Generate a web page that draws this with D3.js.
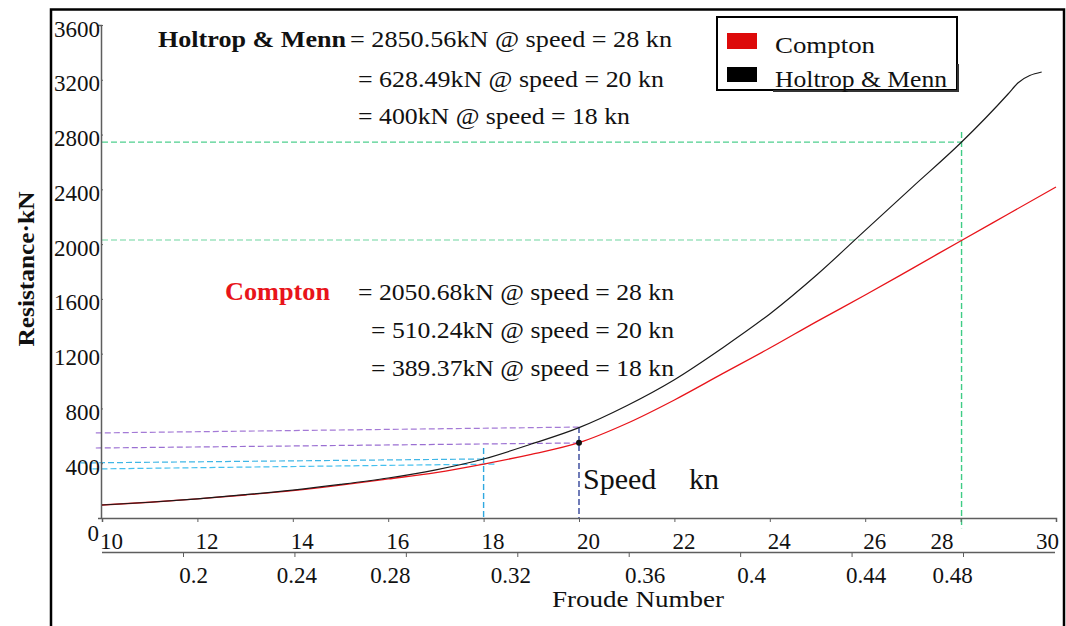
<!DOCTYPE html>
<html><head><meta charset="utf-8">
<script src="https://cdn.jsdelivr.net/npm/d3@7"></script>
<style>
body{margin:0;background:#fff}
svg{display:block}
text{font-family:"Liberation Serif","Times New Roman",serif;fill:#111}
</style>
</head><body>
<svg id="c" width="1066" height="626"></svg>
<script>
// ---------- data ----------
const holtropSpeed = [10,11,12,13,14,15,16,17,18,19,20,21,22,23,24,25,26,27,28,29,29.2,29.7];
const holtropRes   = [95,115,140,170,204,245,292,352,431,540,660,820,1010,1240,1490,1780,2100,2420,2738,3098,3176,3257];
const comptonSpeed = [10,11,12,13,14,15,16,17,18,19,20,21,22,23,24,25,26,27,28,29,30];
const comptonRes   = [95,115,139,168,200,240,285,332,394,465,550,690,862,1052,1241,1438,1628,1825,2023,2220,2417];
const speedTicks  = [10,12,14,16,18,20,22,24,26,28,30];
const froudeTicks = [0.2,0.24,0.28,0.32,0.36,0.4,0.44,0.48];
const resTicks    = [0,400,800,1200,1600,2000,2400,2800,3200,3600];
const seriesNames = ["Compton","Holtrop & Menn"];
// guide lines: [speed, resistance] end points
const guideH28Holtrop = [[10,2745],[28.02,2745]];
const guideH28Compton = [[10,2030],[28.02,2030]];
const guideV28        = [[28.02,2818],[28.02,-75]];
const guideH20Holtrop = [[9.87,621],[20,664]];
const guideH20Compton = [[9.87,511],[20,548]];
const guideH18Holtrop = [[9.56,402],[18,431]];
const guideH18Compton = [[9.8,358],[18.25,394]];
const guideV18        = [[18,511],[18,0]];
const guideV20        = [[20,664],[20,0]];
const markerPoint     = [20,550];
const holtropNotes = ["= 2850.56kN @ speed = 28 kn","= 628.49kN @ speed = 20 kn","= 400kN @ speed = 18 kn"];
const comptonNotes = ["= 2050.68kN @ speed = 28 kn","= 510.24kN @ speed = 20 kn","= 389.37kN @ speed = 18 kn"];

// ---------- drawing ----------
const svg = d3.select("#c");
const x = d3.scaleLinear().domain([10,30]).range([102,1056]);
const y = d3.scaleLinear().domain([0,3600]).range([518,25]);
const fr = d3.scaleLinear().domain([0.2,0.48]).range([183,963]);
const serif = "Liberation Serif";

// outer frame
svg.append("path").attr("d","M51,626 V9.5 H1064 V626").attr("fill","none").attr("stroke","#000").attr("stroke-width",2.5);

// guides
const gl = d3.line().x(d=>x(d[0])).y(d=>y(d[1]));
function guide(pts,color,w){
  svg.append("path").attr("d",gl(pts)).attr("fill","none").attr("stroke",color)
    .attr("stroke-width",w||1.2).attr("stroke-dasharray","6,3");
}
guide(guideH28Holtrop,"#4fd08f");
guide(guideH28Compton,"#6fd6a0");
guide(guideV28,"#3fcc85",1.4);
guide(guideH20Holtrop,"#a47ad6");
guide(guideH20Compton,"#9a6fd2");
guide(guideH18Holtrop,"#3fb6e6");
guide(guideH18Compton,"#45c0ee");
guide(guideV18,"#2fa8e0",1.4);
guide(guideV20,"#33449a",1.4);

// axes
const axisColor = "#5e5e5e";
const yAx = svg.append("g").attr("transform","translate(101,0)")
  .call(d3.axisLeft(y).tickValues(resTicks).tickSize(3).tickPadding(1).tickFormat(d3.format("d")));
yAx.selectAll("text").attr("dy",null).attr("y",d=>d===0?22:11).attr("x",d=>d===0?-2:-1);
yAx.selectAll("line").attr("x2",2);

const xAx = svg.append("g").attr("transform","translate(0,518)")
  .call(d3.axisBottom(x).tickValues(speedTicks).tickSize(4).tickFormat(d3.format("d")));
const sOff = {28:-19,30:-9};
xAx.selectAll("text").attr("dy",null).attr("y",31)
  .attr("x",d=>sOff[d]!==undefined?sOff[d]:9);

const fAx = svg.append("g").attr("transform","translate(0,552)")
  .call(d3.axisBottom(fr).tickValues(froudeTicks).tickSize(5).tickSizeOuter(0).tickFormat(d=>String(d)));
const fOff = {0.2:10,0.24:2,0.28:-16,0.32:-7,0.36:16,0.4:11,0.44:14,0.48:-11};
fAx.selectAll("text").attr("dy",null).attr("y",31).attr("x",d=>fOff[d]||0);
fAx.select(".domain").attr("d","M102,0.5H1055");

[yAx,xAx,fAx].forEach(g=>{
  g.attr("font-family",serif).attr("font-size",23);
  g.selectAll("text").attr("font-family",serif).attr("font-size",23).attr("fill","#111");
  g.selectAll(".domain").attr("stroke",axisColor).attr("stroke-width",1.5);
  g.selectAll(".tick line").attr("stroke",axisColor);
});

// axis titles
svg.append("text").attr("x",638).attr("y",607).attr("text-anchor","middle").attr("font-size",23)
  .attr("textLength",172).attr("lengthAdjust","spacingAndGlyphs").text("Froude Number");
svg.append("text").attr("transform","translate(34,269) rotate(-90)").attr("text-anchor","middle")
  .attr("font-size",24).attr("font-weight","bold").attr("textLength",155).attr("lengthAdjust","spacingAndGlyphs").text("Resistance·kN");

// curves
const line = d3.line().x(d=>x(d[0])).y(d=>y(d[1])).curve(d3.curveMonotoneX);
svg.append("path").datum(comptonSpeed.map((s,i)=>[s,comptonRes[i]]))
  .attr("d",line).attr("fill","none").attr("stroke","#e8141a").attr("stroke-width",1.3);
svg.append("path").datum(holtropSpeed.map((s,i)=>[s,holtropRes[i]]))
  .attr("d",line).attr("fill","none").attr("stroke","#1a1a1a").attr("stroke-width",1.2);

svg.append("circle").attr("cx",x(markerPoint[0])).attr("cy",y(markerPoint[1])).attr("r",3).attr("fill","#111");

// speed label
svg.append("text").attr("x",583).attr("y",489).attr("font-size",30).text("Speed");
svg.append("text").attr("x",689).attr("y",489).attr("font-size",30).text("kn");

// annotations
svg.append("text").attr("x",158).attr("y",47).attr("font-size",24).attr("font-weight","bold")
  .attr("textLength",188).attr("lengthAdjust","spacingAndGlyphs").text(seriesNames[1]);
const hX=[350,358,358], hY=[47,87,124], hW=[322,306,272];
holtropNotes.forEach((t,i)=>svg.append("text").attr("x",hX[i]).attr("y",hY[i]).attr("font-size",24)
  .attr("textLength",hW[i]).attr("lengthAdjust","spacingAndGlyphs").text(t));
svg.append("text").attr("x",225).attr("y",300).attr("font-size",25).attr("font-weight","bold")
  .style("fill","#e8141a").attr("textLength",105).attr("lengthAdjust","spacingAndGlyphs").text(seriesNames[0]);
const cX=[358,371,371], cY=[300,338,376], cW=[316,303,303];
comptonNotes.forEach((t,i)=>svg.append("text").attr("x",cX[i]).attr("y",cY[i]).attr("font-size",24)
  .attr("textLength",cW[i]).attr("lengthAdjust","spacingAndGlyphs").text(t));

// legend
const lg = svg.append("g");
lg.append("rect").attr("x",717).attr("y",17).attr("width",240).attr("height",73)
  .attr("fill","#fff").attr("stroke","#000").attr("stroke-width",2);
lg.append("rect").attr("x",727).attr("y",33).attr("width",30).attr("height",16).attr("fill","#dd0a0a");
lg.append("rect").attr("x",727).attr("y",67).attr("width",30).attr("height",15).attr("fill","#000");
lg.append("text").attr("x",775).attr("y",53).attr("font-size",24).attr("textLength",100)
  .attr("lengthAdjust","spacingAndGlyphs").text(seriesNames[0]);
lg.append("path").attr("d","M773,91 H958 V64").attr("fill","none").attr("stroke","#333").attr("stroke-width",2);
lg.append("text").attr("x",775).attr("y",87).attr("font-size",24).attr("textLength",172)
  .attr("lengthAdjust","spacingAndGlyphs").text(seriesNames[1]);
</script>
</body></html>
